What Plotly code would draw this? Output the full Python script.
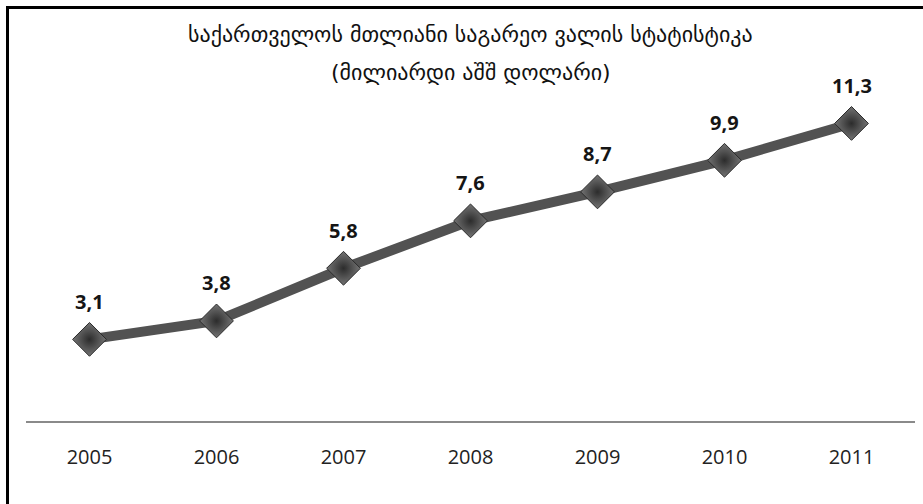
import plotly.graph_objects as go

# Georgia's gross external debt, billion USD
years = ["2005", "2006", "2007", "2008", "2009", "2010", "2011"]
debt = [3.1, 3.8, 5.8, 7.6, 8.7, 9.9, 11.3]
labels = [f"{v:.1f}".replace(".", ",") for v in debt]

title_lines = [
    "საქართველოს მთლიანი საგარეო ვალის სტატისტიკა",
    "(მილიარდი აშშ დოლარი)",
]

W, H = 923, 504
L, R, T, B = 26, 8, 105, 83
plot_h = H - T - B
plot_w = W - L - R


def py(y_px):
    return (H - B - y_px) / plot_h


def px(x_px):
    return (x_px - L) / plot_w


fig = go.Figure()
fig.add_trace(go.Scatter(
    x=years, y=debt,
    mode="lines+markers",
    line=dict(color="#525252", width=10),
    marker=dict(
        symbol="diamond", size=26, color="#747474",
        gradient=dict(type="radial", color="#2c2c2c"),
        line=dict(color="#2a2a2a", width=1),
    ),
    hoverinfo="skip",
))

annotations = []
for i, (v, t) in enumerate(zip(debt, labels)):
    annotations.append(dict(
        x=i, y=v, xref="x", yref="y", text=f"<b>{t}</b>",
        showarrow=False, yshift=38, yanchor="middle",
        font=dict(family="Open Sans", size=20, color="#151515"),
    ))

for i, line in enumerate(title_lines):
    annotations.append(dict(
        x=0.5, xref="paper", y=py(35 + 37 * i), yref="paper",
        text=line, showarrow=False, xanchor="center", yanchor="middle",
        font=dict(family="DejaVu Sans", size=22, color="#111"),
    ))

shapes = [
    # frame on the top and left edges
    dict(type="line", xref="paper", yref="paper",
         x0=px(7.5), x1=px(W + 5), y0=py(7.5), y1=py(7.5),
         line=dict(color="#000", width=3)),
    dict(type="line", xref="paper", yref="paper",
         x0=px(7.5), x1=px(7.5), y0=py(6), y1=py(H + 5),
         line=dict(color="#000", width=3)),
]

fig.update_layout(
    width=W, height=H,
    margin=dict(l=L, r=R, t=T, b=B),
    paper_bgcolor="white", plot_bgcolor="white",
    showlegend=False,
    annotations=annotations,
    shapes=shapes,
    xaxis=dict(
        type="category", range=[-0.5, 6.5],
        showline=True, linecolor="#8a8a8a", linewidth=2,
        showgrid=False, zeroline=False, ticks="",
        ticklabelstandoff=17,
        tickfont=dict(family="Open Sans", size=20, color="#222"),
    ),
    yaxis=dict(
        range=[0, 12], visible=False, showgrid=False, zeroline=False,
    ),
)

fig.write_html("out.html")
